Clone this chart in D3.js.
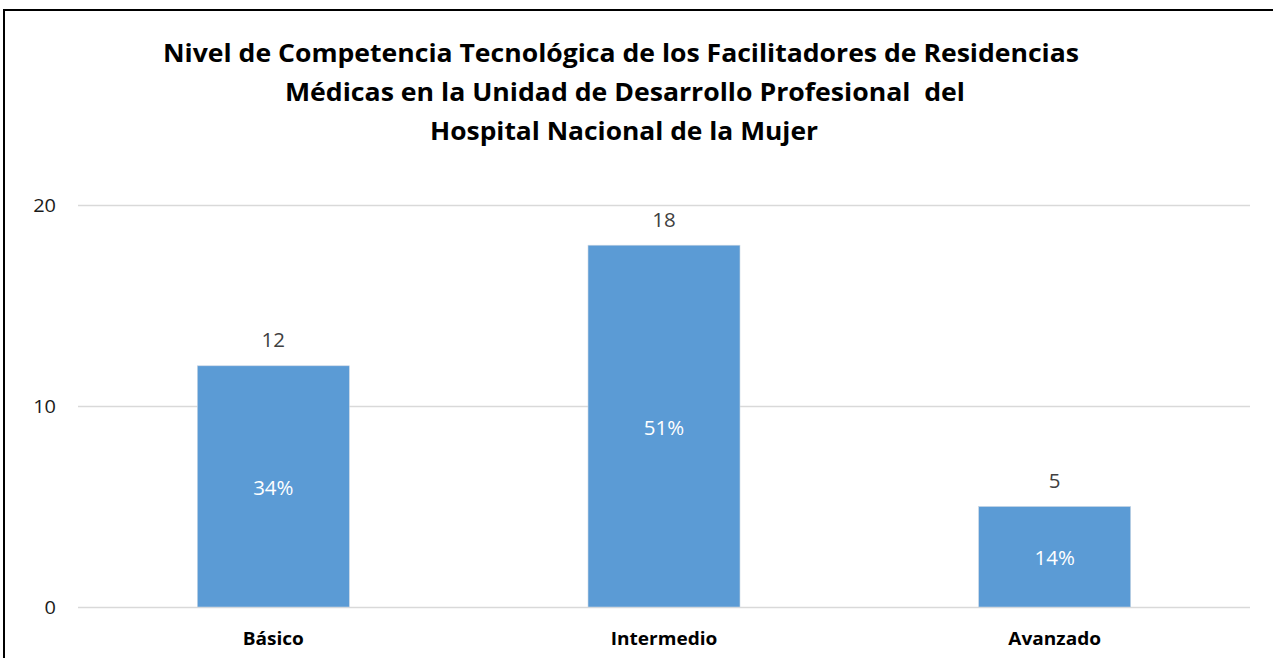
<!DOCTYPE html>
<html>
<head>
<meta charset="utf-8">
<script src="https://cdn.jsdelivr.net/npm/d3@7"></script>
<style>
  body { margin: 0; background: #fff; }
  svg { display: block; font-family: "Open Sans", "Noto Sans", sans-serif; }
</style>
</head>
<body>
<div id="chart"></div>
<script>
// data
const categories = ["Básico", "Intermedio", "Avanzado"];
const counts = [12, 18, 5];
const percentLabels = ["34%", "51%", "14%"];
const yTicks = [0, 10, 20];
const titleLines = [
    "Nivel de Competencia Tecnológica de los Facilitadores de Residencias",
    "Médicas en la Unidad de Desarrollo Profesional  del",
    "Hospital Nacional de la Mujer"
];

const width = 1273, height = 658;
const margin = {top: 205, right: 23, bottom: 52, left: 78};

// widen text a little, the reference font runs wider than Open Sans
function stretch(sel, k) {
    sel.each(function() {
        let len = this.getComputedTextLength();
        d3.select(this)
            .attr("textLength", len * k)
            .attr("lengthAdjust", "spacingAndGlyphs");
    });
}

let svg = d3.select("#chart").append("svg")
    .attr("width", width)
    .attr("height", height);

// outer chart frame (runs past the right and bottom edge)
svg.append("rect")
    .attr("x", 4)
    .attr("y", 10)
    .attr("width", width + 10)
    .attr("height", height + 10)
    .attr("fill", "#fff")
    .attr("stroke", "#000")
    .attr("stroke-width", 2);

// title
let title = svg.append("text")
    .attr("text-anchor", "middle")
    .attr("font-weight", "bold")
    .attr("font-size", 25.5)
    .attr("fill", "#000");

title.selectAll("tspan")
    .data(titleLines)
    .enter()
    .append("tspan")
    .attr("x", (d, i) => [621, 625, 624][i])
    .attr("y", (d, i) => 62 + i * 39)
    .attr("xml:space", "preserve")
    .text(d => d);

// fit each title line to the width seen in the reference
title.selectAll("tspan").each(function(d, i) {
    let target = [916, 680, 388][i];
    d3.select(this).attr("textLength", target).attr("lengthAdjust", "spacingAndGlyphs");
});

let plotW = width - margin.left - margin.right;
let plotH = height - margin.top - margin.bottom;

let g = svg.append("g")
    .attr("transform", `translate(${margin.left},${margin.top})`);

let x = d3.scaleBand()
    .domain(categories)
    .range([0, plotW])
    .paddingInner(0.611)
    .paddingOuter(0.3055);

let y = d3.scaleLinear()
    .domain([0, 20])
    .range([plotH + 1, 0]);

// gridlines
g.selectAll(".grid")
    .data(yTicks)
    .enter()
    .append("line")
    .attr("class", "grid")
    .attr("x1", 0)
    .attr("x2", plotW)
    .attr("y1", d => Math.round(y(d)) + 0.5)
    .attr("y2", d => Math.round(y(d)) + 0.5)
    .attr("stroke", "#d9d9d9")
    .attr("stroke-width", 1.5);

// y axis labels
let yAxis = d3.axisLeft(y).tickValues(yTicks).tickSize(0).tickPadding(22);
let yLabels = g.append("g")
    .call(yAxis)
    .call(a => a.select(".domain").remove())
    .selectAll("text")
    .attr("font-family", "'Open Sans', sans-serif")
    .attr("font-size", 19)
    .attr("fill", "#1a1a1a");
stretch(yLabels, 1.05);

// bars
g.selectAll(".bar")
    .data(counts)
    .enter()
    .append("rect")
    .attr("class", "bar")
    .attr("x", (d, i) => x(categories[i]))
    .attr("y", d => y(d))
    .attr("width", x.bandwidth())
    .attr("height", d => y(0) - y(d))
    .attr("fill", "#5b9bd5")
    .attr("stroke", "#c9d6e3")
    .attr("stroke-width", 0.6);

// count labels above bars
let countLabels = g.selectAll(".count")
    .data(counts)
    .enter()
    .append("text")
    .attr("class", "count")
    .attr("x", (d, i) => x(categories[i]) + x.bandwidth() / 2)
    .attr("y", d => y(d) - 18.5)
    .attr("text-anchor", "middle")
    .attr("font-size", 19.5)
    .attr("fill", "#404040")
    .text(d => d);
stretch(countLabels, 1.05);

// percent labels inside bars
let pctLabels = g.selectAll(".pct")
    .data(counts)
    .enter()
    .append("text")
    .attr("class", "pct")
    .attr("x", (d, i) => x(categories[i]) + x.bandwidth() / 2)
    .attr("y", d => (y(d) + y(0)) / 2 + 8.5)
    .attr("text-anchor", "middle")
    .attr("font-size", 19.5)
    .attr("fill", "#fff")
    .text((d, i) => percentLabels[i]);
stretch(pctLabels, 1.05);

// category axis
let xAxis = d3.axisBottom(x).tickSize(0);
let xLabels = g.append("g")
    .attr("transform", `translate(0,${plotH})`)
    .call(xAxis)
    .call(a => a.select(".domain").remove())
    .selectAll("text")
    .attr("y", 39)
    .attr("dy", null)
    .attr("font-family", "'Open Sans', sans-serif")
    .attr("font-size", 17)
    .attr("font-weight", "bold")
    .attr("fill", "#000");
stretch(xLabels, 1.12);
</script>
</body>
</html>
